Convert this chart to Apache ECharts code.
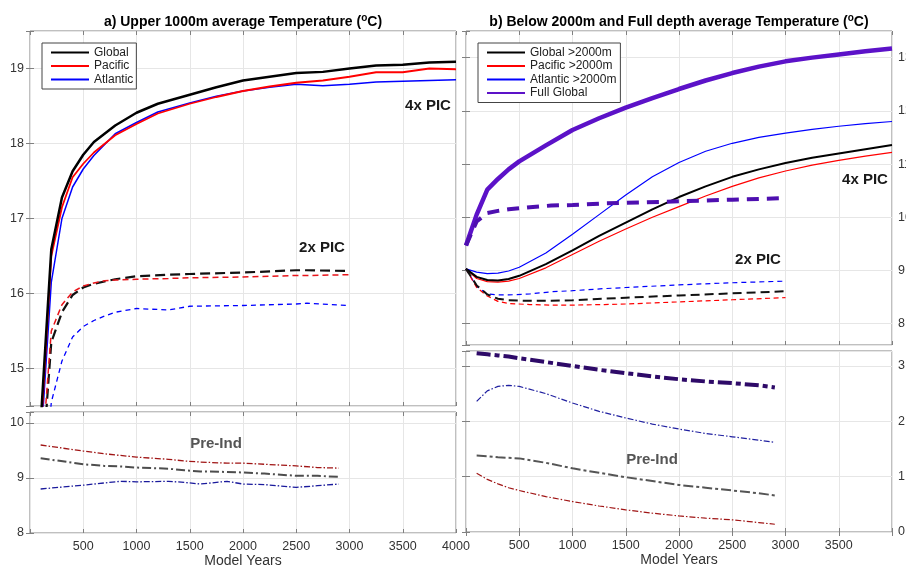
<!DOCTYPE html>
<html><head><meta charset="utf-8">
<script src="https://cdn.jsdelivr.net/npm/echarts@6/dist/echarts.min.js"></script>
<style>html,body{margin:0;padding:0;background:#fff}#c{width:906px;height:565px}</style>
</head><body><div id="c"></div>
<script>
// ---------- DATA ----------
// Panel a) upper 1000m, 4x PIC
const yrsA4 = [100,200,300,400,500,600,800,1000,1200,1500,1750,2000,2250,2500,2750,3000,3250,3500,3750,4000];
const a4Global   = [14.27,16.59,17.28,17.63,17.85,18.02,18.24,18.41,18.53,18.65,18.75,18.84,18.89,18.94,18.955,19.0,19.04,19.05,19.08,19.09];
const a4Pacific  = [14.1,16.5,17.15,17.55,17.73,17.88,18.11,18.26,18.40,18.53,18.62,18.70,18.76,18.81,18.84,18.89,18.95,18.95,19.0,18.99];
const a4Atlantic = [13.95,16.15,17.0,17.42,17.66,17.84,18.13,18.28,18.42,18.54,18.63,18.70,18.75,18.79,18.77,18.79,18.82,18.83,18.84,18.85];
// Panel a) 2x PIC
const yrsA2 = [100,200,300,400,500,600,700,800,1000,1300,1500,2000,2500,2600,3000];
const a2Global   = [13.4,15.35,15.75,15.98,16.08,16.13,16.16,16.19,16.23,16.25,16.26,16.28,16.31,16.31,16.30];
const a2Pacific  = [13.6,15.5,15.85,16.02,16.1,16.14,16.17,16.18,16.19,16.2,16.21,16.22,16.24,16.24,16.25];
const a2Atlantic = [12.8,14.55,15.1,15.42,15.56,15.64,15.7,15.75,15.80,15.78,15.83,15.84,15.86,15.87,15.84];
// Panel a) Pre-Ind
const yrsAP = [100,500,700,850,1000,1300,1450,1600,1850,2000,2200,2500,2700,2900];
const apPacific  = [9.60,9.49,9.44,9.41,9.38,9.34,9.31,9.29,9.27,9.27,9.25,9.22,9.19,9.18];
const apGlobal   = [9.36,9.25,9.22,9.21,9.19,9.17,9.14,9.12,9.11,9.10,9.08,9.04,9.04,9.02];
const apAtlantic = [8.80,8.87,8.91,8.94,8.93,8.94,8.92,8.89,8.94,8.89,8.88,8.83,8.86,8.89];
// Panel b) 4x PIC
const yrsB4 = [0,100,200,300,400,500,750,1000,1250,1500,1750,2000,2250,2500,2750,3000,3250,3500,3750,4000];
const b4Full     = [9.47,10.05,10.52,10.72,10.9,11.05,11.35,11.64,11.86,12.06,12.24,12.41,12.57,12.71,12.83,12.93,13.0,13.06,13.12,13.17];
const b4Global   = [9.03,8.88,8.82,8.81,8.84,8.9,9.12,9.38,9.65,9.9,10.15,10.38,10.58,10.76,10.9,11.02,11.12,11.2,11.28,11.36];
const b4Pacific  = [9.03,8.85,8.79,8.78,8.8,8.85,9.05,9.3,9.55,9.78,10.0,10.2,10.4,10.58,10.74,10.87,10.98,11.07,11.15,11.22];
const b4Atlantic = [9.03,8.97,8.94,8.95,8.99,9.06,9.33,9.68,10.05,10.42,10.76,11.03,11.24,11.39,11.5,11.58,11.65,11.71,11.76,11.8];
// Panel b) 2x PIC
const yrsB2 = [0,100,200,300,400,600,800,1000,1300,1500,2000,2500,3000];
const b2Full     = [9.47,9.92,10.08,10.12,10.15,10.19,10.22,10.23,10.26,10.27,10.30,10.33,10.36];
const b2Global   = [9.03,8.72,8.55,8.47,8.44,8.43,8.43,8.44,8.47,8.49,8.53,8.57,8.61];
const b2Pacific  = [9.03,8.68,8.52,8.42,8.38,8.36,8.35,8.35,8.36,8.37,8.41,8.45,8.49];
const b2Atlantic = [9.03,8.7,8.56,8.54,8.54,8.56,8.6,8.62,8.66,8.68,8.73,8.77,8.80];
// Panel b) Pre-Ind
const yrsBP = [100,200,300,400,500,750,1000,1250,1500,1750,2000,2250,2500,2750,2900];
const bpFull     = [3.23,3.21,3.19,3.17,3.14,3.07,3.00,2.93,2.87,2.81,2.76,2.72,2.69,2.65,2.61];
const bpAtlantic = [2.36,2.55,2.63,2.65,2.63,2.5,2.33,2.18,2.06,1.95,1.86,1.78,1.72,1.66,1.62];
const bpGlobal   = [1.38,1.37,1.35,1.34,1.33,1.25,1.15,1.07,0.99,0.92,0.85,0.80,0.75,0.70,0.66];
const bpPacific  = [1.06,0.95,0.87,0.80,0.75,0.64,0.55,0.47,0.40,0.34,0.29,0.25,0.22,0.17,0.14];
// Axis settings
const xTicks = [0,500,1000,1500,2000,2500,3000,3500,4000];
const yRanges = [[14.5,19.5],[8,10.2],[7.6,13.5],[0,3.27]];

// ---------- CHART ----------
const FF = '"Liberation Sans", Arial, Helvetica, sans-serif';
const chart = echarts.init(document.getElementById('c'), null, {renderer:'canvas'});
const gridDefs = [
  {left:30, top:31, width:426, height:375},
  {left:30, top:412, width:426, height:121},
  {left:466, top:31, width:426, height:314},
  {left:466, top:351, width:426, height:181}
].map(g => Object.assign(g, {show:true, borderColor:'#808080', borderWidth:1, containLabel:false, outerBoundsMode:'none'}));

const intOnly = v => Math.abs(v - Math.round(v)) < 1e-6 ? String(Math.round(v)) : '';
const tickStyle = {show:true, inside:true, length:4, lineStyle:{color:'#808080'}};
const xAxes = [], yAxes = [];
for (let i = 0; i < 4; i++) {
  const bottomPanel = (i === 1 || i === 3);
  xAxes.push({
    gridIndex:i, type:'value', min:xTicks[0], max:xTicks[xTicks.length-1], interval:500, position:'bottom',
    axisLine:{show:false}, axisTick:tickStyle,
    axisLabel:{show:bottomPanel, fontSize:12.5, color:'#333', fontFamily:FF, margin:7,
      formatter: v => (v === 0 || (i === 3 && v === 4000)) ? '' : String(v)},
    splitLine:{show:true, lineStyle:{color:'#e6e6e6'}},
    name: bottomPanel ? 'Model Years' : '', nameLocation:'middle', nameGap:18,
    nameTextStyle:{fontSize:14, color:'#333', fontFamily:FF, verticalAlign:'top'}
  });
  const yi = {
    gridIndex:i, type:'value', min:yRanges[i][0], max:yRanges[i][1], position: i < 2 ? 'left' : 'right',
    axisLine:{show:false}, axisTick:tickStyle,
    axisLabel:{formatter:intOnly, fontSize:12.5, color:'#333', fontFamily:FF, margin:6},
    splitLine:{show:true, lineStyle:{color:'#e6e6e6'}}
  };
  if (bottomPanel) yi.interval = 1;
  yAxes.push(yi);
}
for (let i = 0; i < 4; i++) {
  xAxes.push({gridIndex:i, type:'value', min:0, max:4000, interval:500, position:'top',
    axisLine:{show:false}, axisTick:tickStyle, axisLabel:{show:false}, splitLine:{show:false}});
  const yi = {gridIndex:i, type:'value', min:yRanges[i][0], max:yRanges[i][1], position: i < 2 ? 'right' : 'left',
    axisLine:{show:false}, axisTick:tickStyle, axisLabel:{show:false}, splitLine:{show:false}};
  if (i === 1 || i === 3) yi.interval = 1;
  yAxes.push(yi);
}

function ser(name, xs, ys, gi, color, width, dash, z) {
  return {name, type:'line', xAxisIndex:gi, yAxisIndex:gi,
    data: xs.map((x, k) => [x, ys[k]]),
    symbol:'none', showSymbol:false, clip:true, animation:false,
    lineStyle:{color, width, type: dash || 'solid'}, itemStyle:{color},
    emphasis:{disabled:true}, z: z || 2};
}
const DD = [6,2,1.5,2];
const series = [
  // panel a
  ser('Global', yrsA4, a4Global, 0, '#000000', 2.5, null, 5),
  ser('Pacific', yrsA4, a4Pacific, 0, '#ff0000', 1.8, null, 4),
  ser('Atlantic', yrsA4, a4Atlantic, 0, '#0000ff', 1.5, null, 3),
  ser('Global 2x', yrsA2, a2Global, 0, '#111111', 2.2, [10,5], 4),
  ser('Pacific 2x', yrsA2, a2Pacific, 0, '#e8141a', 1.5, [6,4], 5),
  ser('Atlantic 2x', yrsA2, a2Atlantic, 0, '#0000ff', 1.3, [5,4], 3),
  ser('Pacific PI', yrsAP, apPacific, 1, '#a01515', 1.3, DD),
  ser('Global PI', yrsAP, apGlobal, 1, '#4d4d4d', 2, [9,3,2,3]),
  ser('Atlantic PI', yrsAP, apAtlantic, 1, '#1a1a9c', 1.3, DD),
  // panel b
  ser('Global >2000m', yrsB4, b4Global, 2, '#000000', 2, null, 5),
  ser('Pacific >2000m', yrsB4, b4Pacific, 2, '#ff0000', 1.2, null, 4),
  ser('Atlantic >2000m', yrsB4, b4Atlantic, 2, '#0000ff', 1.2, null, 3),
  ser('Full Global', yrsB4, b4Full, 2, '#5c12c8', 4.5, null, 6),
  ser('Full Global 2x', yrsB2, b2Full, 2, '#4e0fb0', 4, [12,8], 6),
  ser('Global >2000m 2x', yrsB2, b2Global, 2, '#111111', 2, [9,5], 5),
  ser('Pacific >2000m 2x', yrsB2, b2Pacific, 2, '#ff0000', 1.2, [5,3.5], 4),
  ser('Atlantic >2000m 2x', yrsB2, b2Atlantic, 2, '#0000ff', 1.2, [5,4], 3),
  ser('Full Global PI', yrsBP, bpFull, 3, '#2e0a68', 4, [14,4,5,4]),
  ser('Atlantic >2000m PI', yrsBP, bpAtlantic, 3, '#2020a0', 1.2, DD),
  ser('Global >2000m PI', yrsBP, bpGlobal, 3, '#555555', 2, [10,3,3,3]),
  ser('Pacific >2000m PI', yrsBP, bpPacific, 3, '#a01515', 1.2, DD)
];

const legendBase = {orient:'vertical', itemWidth:38, itemHeight:10, itemGap:0.5,
  backgroundColor:'#fff', borderColor:'#444', borderWidth:1, borderRadius:0, selectedMode:false,
  itemStyle:{opacity:0, borderWidth:0},
  textStyle:{fontSize:12, color:'#222', lineHeight:13, fontFamily:FF}};
const legends = [
  Object.assign({}, legendBase, {data:['Global','Pacific','Atlantic'], left:42, top:43, padding:[3,3,3,8]}),
  Object.assign({}, legendBase, {data:['Global >2000m','Pacific >2000m','Atlantic >2000m','Full Global'], left:478, top:43, padding:[3,4,3,8]})
];

function txt(x, y, text, size, color, rich) {
  return {type:'text', x, y, z:100, silent:true, style:{text, fill:color,
    font:'bold ' + size + 'px ' + FF, fontSize:size, fontWeight:'bold', fontFamily:FF,
    align:'center', verticalAlign:'middle', textAlign:'center', textVerticalAlign:'middle', rich}};
}
const supRich = {s:{fontSize:10, fontWeight:'bold', fontFamily:FF, fill:'#000', lineHeight:10, padding:[0,0,7,0]}};
const graphics = [
  txt(243, 22, 'a) Upper 1000m average Temperature ({s|o}C)', 14, '#000', supRich),
  txt(679, 22, 'b) Below 2000m and Full depth average Temperature ({s|o}C)', 14, '#000', supRich),
  txt(428, 106, '4x PIC', 15, '#1a1a1a'),
  txt(322, 248, '2x PIC', 15, '#1a1a1a'),
  txt(216, 444, 'Pre-Ind', 15, '#555555'),
  txt(865, 180, '4x PIC', 15, '#1a1a1a'),
  txt(758, 260, '2x PIC', 15, '#1a1a1a'),
  txt(652, 460, 'Pre-Ind', 15, '#555555')
];

chart.setOption({
  animation:false,
  backgroundColor:'#fff',
  textStyle:{fontFamily:FF},
  grid:gridDefs, xAxis:xAxes, yAxis:yAxes,
  legend:legends, series, graphic:graphics
});
</script></body></html>
